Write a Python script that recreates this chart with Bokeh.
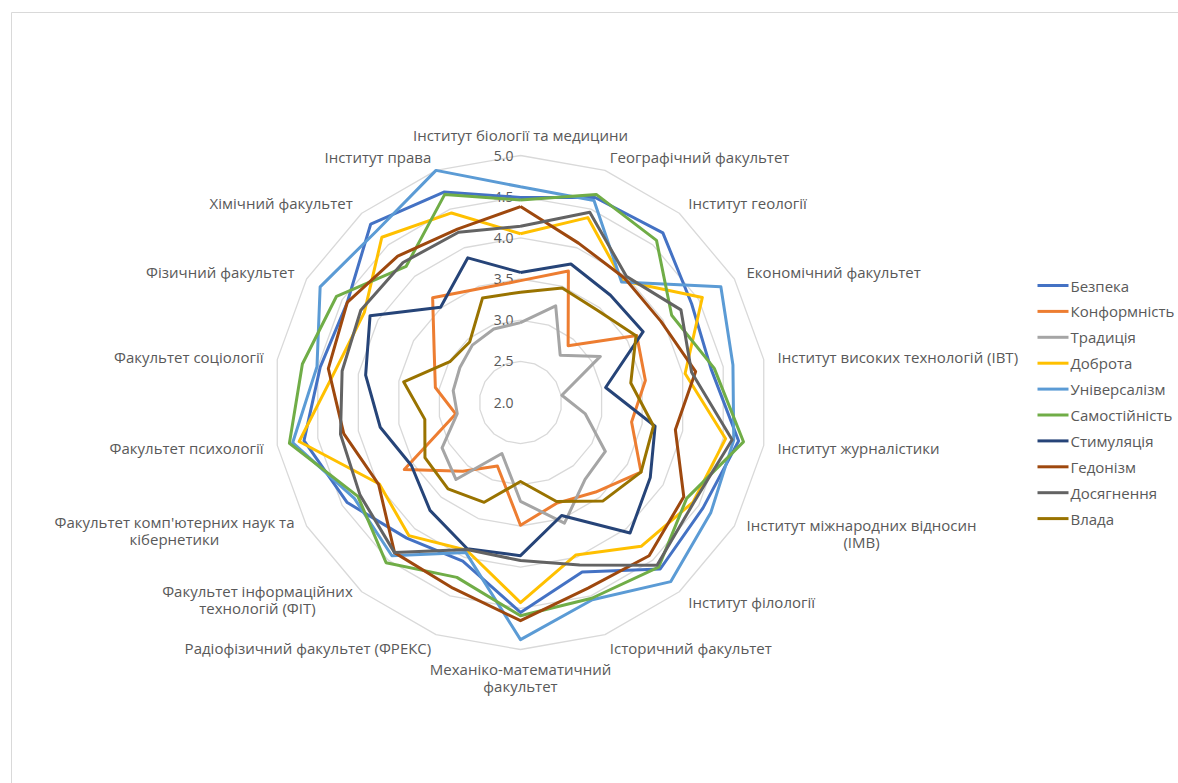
import numpy as np
from bokeh.plotting import figure
from bokeh.models import Range1d
from bokeh.embed import file_html
from bokeh.resources import INLINE
from bokeh.core.properties import value

categories = [
    "Інститут біології та медицини",
    "Географічний факультет",
    "Інститут геології",
    "Економічний факультет",
    "Інститут високих технологій (ІВТ)",
    "Інститут журналістики",
    "Інститут міжнародних відносин\n(ІМВ)",
    "Інститут філології",
    "Історичний факультет",
    "Механіко-математичний\nфакультет",
    "Радіофізичний факультет (ФРЕКС)",
    "Факультет інформаційних\nтехнологій (ФІТ)",
    "Факультет комп'ютерних наук та\nкібернетики",
    "Факультет психології",
    "Факультет соціології",
    "Фізичний факультет",
    "Хімічний факультет",
    "Інститут права",
]

series_names = ["Безпека", "Конформність", "Традиція", "Доброта", "Універсалізм",
                "Самостійність", "Стимуляція", "Гедонізм", "Досягнення", "Влада"]

bezpeka       = [4.49, 4.65, 4.69, 4.40, 4.35, 4.69, 4.56, 4.64, 4.19, 4.55, 4.05, 4.15, 4.43, 4.67, 4.47, 4.43, 4.83, 4.72]
konformnist   = [3.48, 3.70, 2.90, 3.63, 3.54, 3.37, 3.69, 3.42, 3.30, 3.49, 2.82, 3.09, 3.63, 2.80, 3.05, 3.21, 3.66, 3.47]
tradytsiya    = [2.97, 3.25, 2.75, 3.12, 2.51, 2.80, 3.19, 3.22, 3.56, 3.20, 2.66, 3.22, 3.10, 2.78, 2.83, 2.85, 2.91, 2.95]
dobrota       = [4.05, 4.39, 3.93, 4.55, 4.03, 4.53, 4.42, 4.28, 3.97, 4.43, 3.91, 4.11, 3.98, 4.73, 4.28, 4.19, 4.62, 4.45]
universalizm  = [4.62, 4.61, 3.91, 4.81, 4.62, 4.63, 4.67, 4.84, 4.55, 4.88, 3.94, 4.43, 4.33, 4.81, 4.51, 4.81, 4.72, 5.00]
samostiynist  = [4.46, 4.69, 4.57, 4.12, 4.39, 4.75, 4.33, 4.61, 4.53, 4.59, 4.26, 4.54, 4.28, 4.85, 4.69, 4.58, 4.16, 4.69]
stymulyatsiya = [3.58, 3.79, 3.70, 3.72, 3.05, 3.66, 3.82, 4.07, 3.46, 3.86, 3.89, 3.71, 3.53, 3.73, 3.91, 4.11, 3.51, 3.87]
hedonizm      = [4.38, 4.06, 3.97, 3.97, 4.16, 3.91, 4.29, 4.43, 4.40, 4.65, 4.40, 4.38, 3.99, 4.18, 4.37, 4.43, 4.32, 4.24]
dosyahnennya  = [4.14, 4.46, 4.00, 4.25, 4.11, 4.61, 4.43, 4.58, 4.10, 3.92, 3.90, 4.38, 4.25, 4.22, 4.20, 4.24, 4.22, 4.20]
vlada         = [3.34, 3.48, 3.46, 3.62, 3.36, 3.64, 3.69, 3.56, 3.28, 2.96, 3.29, 3.37, 3.34, 3.18, 3.44, 2.99, 2.96, 3.35]

series_values = [bezpeka, konformnist, tradytsiya, dobrota, universalizm,
                 samostiynist, stymulyatsiya, hedonizm, dosyahnennya, vlada]

colors = ["#4472C4", "#ED7D31", "#A5A5A5", "#FFC000", "#5B9BD5",
          "#70AD47", "#264478", "#9E480E", "#636363", "#997300"]

tick_values = [2.0, 2.5, 3.0, 3.5, 4.0, 4.5, 5.0]
tick_labels = ["2.0", "2.5", "3.0", "3.5", "4.0", "4.5", "5.0"]
r_min, r_max = 2.0, 5.0

# ---- layout (pixels) ----
W, H = 1178, 783
CXP, CYP = 520, 402          # centre of radar on page
RADIUS = 247                 # px for r_max
LABEL_R = 261
TEXT_COL = "#595959"
FONT = "Open Sans"
FS = "15px"

p = figure(width=W, height=H, output_backend="svg", toolbar_location=None,
           x_range=Range1d(-CXP, W - CXP), y_range=Range1d(CYP - H, CYP),
           x_axis_type=None, y_axis_type=None, min_border=0)
p.grid.visible = False
p.outline_line_color = None
p.background_fill_color = "white"
p.border_fill_color = "white"

def page_x(px):
    return px - CXP
def page_y(py):
    return CYP - py

# chart border (top and left edges visible)
p.quad(left=page_x(11), right=page_x(1400), top=page_y(12), bottom=page_y(1000),
       fill_color=None, line_color="#D9D9D9", line_width=1)

n = len(categories)
ang = np.arange(n) * 2 * np.pi / n

def scale(v):
    return (np.asarray(v, dtype=float) - r_min) / (r_max - r_min) * RADIUS

# grid rings
for tv in tick_values[1:]:
    r = scale(tv)
    xs = list(r * np.sin(ang)) + [0.0]
    ys = list(r * np.cos(ang)) + [r]
    p.line(xs, ys, line_color="#D9D9D9", line_width=1.3)

# value labels
p.text(x=[-7] * len(tick_values), y=list(scale(tick_values)), text=tick_labels,
       text_font=value(FONT), text_font_size="14px", text_color=TEXT_COL,
       text_align="right", text_baseline="middle")

# series
for vals, col in zip(series_values, colors):
    r = scale(vals)
    xs = list(r * np.sin(ang)) + [r[0] * np.sin(ang[0])]
    ys = list(r * np.cos(ang)) + [r[0] * np.cos(ang[0])]
    p.line(xs, ys, line_color=col, line_width=3, line_join="round")

# category labels
for i, cat in enumerate(categories):
    a = ang[i]
    lx = LABEL_R * np.sin(a)
    ly = LABEL_R * np.cos(a)
    if i == 0:
        anchor = "bottom_center"
        ly = 258
    elif i == n // 2:
        anchor = "top_center"
        ly = -256
    elif i < n // 2:
        anchor = "center_left"
    else:
        anchor = "center_right"
    if i in (11, 12):
        ly += 3
    p.text(x=[lx], y=[ly], text=[cat], text_font=value(FONT), text_font_size=FS,
           text_color=TEXT_COL, anchor=anchor, text_align="center",
           text_baseline="middle", text_line_height=0.85)

# legend
leg_x0, leg_x1, leg_y0, leg_dy = 1037, 1068, 285, 25.9
for k, (name, col) in enumerate(zip(series_names, colors)):
    yy = page_y(leg_y0 + k * leg_dy)
    p.line([page_x(leg_x0), page_x(leg_x1)], [yy, yy], line_color=col, line_width=3)
    p.text(x=[page_x(leg_x1 + 2)], y=[yy], text=[name], text_font=value(FONT),
           text_font_size=FS, text_color=TEXT_COL, text_align="left",
           text_baseline="middle")

open("out.html", "w").write(file_html(p, INLINE))
